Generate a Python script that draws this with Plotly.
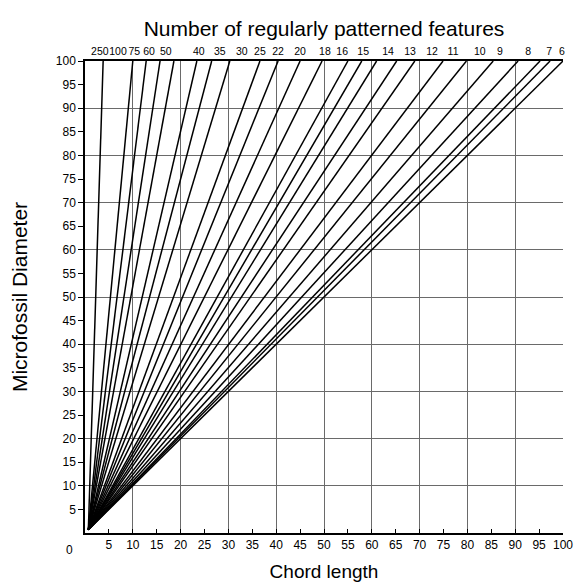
import plotly.graph_objects as go

# ---- data ----
# Number of regularly patterned features (labels along the top axis)
feature_counts = ["250", "100", "75", "60", "50", "40", "35", "30", "25", "22", "20",
                  "18", "16", "15", "14", "13", "12", "11", "10", "9", "8", "7", "6"]
# where each label sits along the top (chord-length units)
feature_label_pos = [3.1, 6.9, 10.3, 13.4, 16.9, 23.8, 28.2, 32.8, 36.6, 40.4, 45.0,
                     50.2, 53.8, 58.2, 63.4, 68.0, 72.6, 77.0, 82.6, 86.8, 92.7, 97.1, 99.8]
# chord length at which each line meets diameter = 100 (last one is the diagonal)
chord_at_top = [3.8, 10.0, 12.8, 15.7, 18.6, 23.4, 26.5, 30.3, 36.6, 40.4, 45.0,
                49.6, 55.0, 57.9, 61.0, 65.2, 69.0, 74.9, 79.8, 85.4, 90.6, 95.2, 97.3, 100.0]
diameter_top = 100
fan_origin = 0.7          # common starting point of all lines (chord = diameter)

x_ticks = list(range(5, 101, 5))
y_ticks = list(range(5, 101, 5))
grid_vals = list(range(10, 101, 10))

# ---- build line geometry ----
xs, ys = [], []
for c in chord_at_top:
    xs += [fan_origin, c, None]
    ys += [fan_origin, diameter_top, None]

FONT = "Liberation Sans, Arial, sans-serif"
fig = go.Figure()

# grid holder (base axes)
fig.add_trace(go.Scatter(x=[0], y=[0], mode="markers", marker=dict(opacity=0),
                         hoverinfo="skip", showlegend=False, xaxis="x", yaxis="y"))
# top label holder
fig.add_trace(go.Scatter(x=[0], y=[0], mode="markers", marker=dict(opacity=0),
                         hoverinfo="skip", showlegend=False, xaxis="x2", yaxis="y3"))
# the nomogram lines
fig.add_trace(go.Scatter(x=xs, y=ys, mode="lines", line=dict(color="black", width=1.5),
                         hoverinfo="skip", showlegend=False, xaxis="x3", yaxis="y3"))

TICKFONT = dict(size=12, color="black")
fig.update_layout(
    width=583, height=586,
    margin=dict(l=77, r=28, t=53, b=61),
    paper_bgcolor="white", plot_bgcolor="white",
    font=dict(family=FONT, color="black", size=12),
    xaxis=dict(range=[0, 100], tickvals=grid_vals, showticklabels=False, ticks="",
               showgrid=True, gridcolor="#6a6a6a", gridwidth=1, zeroline=False,
               showline=False, automargin=False),
    yaxis=dict(range=[0, 100], tickvals=grid_vals, showticklabels=False, ticks="",
               showgrid=True, gridcolor="#6a6a6a", gridwidth=1, zeroline=False,
               showline=False, automargin=False),
    xaxis3=dict(range=[0, 100], overlaying="x", anchor="y3", side="bottom",
                tickvals=x_ticks, ticktext=[str(v) for v in x_ticks], tickangle=0,
                ticks="inside", ticklen=4, tickcolor="black", showgrid=False, zeroline=False,
                showline=True, linecolor="black", linewidth=1.5, automargin=False,
                tickfont=TICKFONT,
                title=dict(text="Chord length", font=dict(size=19), standoff=14)),
    yaxis3=dict(range=[0, 100], overlaying="y", anchor="x3", side="left",
                tickvals=y_ticks, ticktext=[str(v) for v in y_ticks],
                ticks="outside", ticklen=5, tickcolor="black", showgrid=False, zeroline=False,
                showline=True, linecolor="black", linewidth=1.5, automargin=False,
                tickfont=TICKFONT,
                title=dict(text="Microfossil Diameter", font=dict(size=21), standoff=26)),
    xaxis2=dict(range=[0, 100], overlaying="x", anchor="y3", side="top",
                tickvals=feature_label_pos, ticktext=feature_counts, tickangle=0,
                ticks="", showgrid=False, zeroline=False, automargin=False,
                showline=True, linecolor="black", linewidth=1.5,
                tickfont=dict(size=10.5, color="black"),
                title=dict(text="Number of regularly patterned features",
                           font=dict(size=21), standoff=3)),
    annotations=[dict(text="0", xref="paper", yref="paper", x=0, y=0,
                      xanchor="right", yanchor="top", xshift=-10, yshift=-8,
                      showarrow=False, font=dict(size=12))],
)

fig.write_html("out.html")
